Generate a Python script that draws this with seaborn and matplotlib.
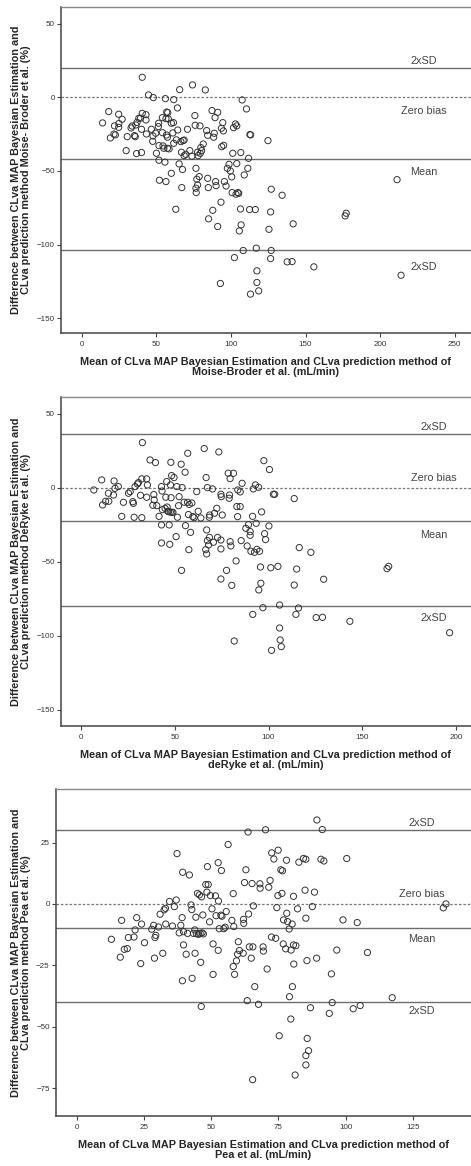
import numpy as np
import pandas as pd
import matplotlib
matplotlib.use("Agg")
import matplotlib.pyplot as plt
import seaborn as sns

# Panel 1: Moise-Broder et al.
mb_mean = [40.5, 13.9, 18, 19.1, 21.5, 22.5, 21.9, 24.7, 24.7, 27, 24.8, 29.7, 30.4, 33, 33.7,
           35.3, 35.8, 36.2, 36.7, 37, 38.2, 39.3, 40, 40, 40.5, 43, 43, 43.3, 44.7, 46.6,
           47.7, 47.9, 47.5, 50, 51.3, 51.5, 51.7, 51.7, 52, 54, 54.4, 54, 55, 55.7, 56.4,
           56, 56.4, 56.7, 56.9, 57.6, 57.4, 58.5, 58, 60, 60, 61, 61.6, 61.4, 61.6, 63,
           64.1, 64.3, 63.4, 65.2, 65.6, 66.4, 66.8, 67.5, 67, 67.9, 68.6, 69.7, 70.8, 72.4, 73.8,
           74.2, 75.8, 76, 76.5, 76.5, 76.7, 77.1, 77.6, 78, 79.2, 78.7, 80.3, 79.4, 81.4, 82.8,
           83.7, 84.4, 84.4, 84.8, 85, 87.3, 87.8, 88.4, 88.8, 89.3, 89.7, 90, 91.1, 91.1, 92.9,
           93.3, 93.6, 93.8, 94.5, 94.9, 95.6, 95.1, 96.7, 97.6, 98.7, 99.6, 100.5, 100.8, 101.2, 101.7,
           102.3, 103, 103.9, 103.4, 103.9, 104.6, 105.2, 105.6, 106.4, 106.6, 106.8, 107.5, 108.2, 108.9, 110.4,
           111.3, 111.8, 112.7, 113.2, 113.1, 112.5, 116.3, 117, 117.4, 117.4, 118.6, 124.8, 125.5, 126.6, 126.6,
           127, 127, 134.3, 137.7, 141, 141.7, 155.6, 176.6, 177.3, 211.4, 214.1,
           49.5, 57.4, 68.6, 77.6, 79.8]
mb_diff = [13.6, -17.4, -9.7, -27.6, -25, -25.5, -19.4, -11.5, -20.4, -14.9, -17.8, -36.2, -26.7, -20.8, -19.5,
           -26, -26.7, -18.8, -38.2, -17, -14.2, -14.2, -21.7, -37.5, -10.9, -11.8, -15.4, -24.9, 1.6, -21.7,
           -26.2, -0.2, -29.9, -38, -19.9, -17.6, -32.8, -42.7, -56.3, -13.8, -33, -24, -34.6, -44, -57.2,
           -0.9, -14.5, -25.6, -10, -10.4, -34.6, -35, -14.7, -17.6, -51.6, -24.2, -1.6, -17.2, -31.2, -76,
           -7.2, -22.2, -28.9, -45.2, 5.2, -30.1, -37.3, -49, -61.3, -29.4, -39.6, -38.7, -21.7, -36.2, -40,
           8.4, -12.4, -19, -48.2, -61.7, -64.7, -55.6, -59.5, -39.6, -19.4, -53.8, -36.2, -38, -31.7, 5,
           -22.6, -25.8, -55, -61.3, -82.5, -9, -76.7, -27.1, -24.4, -13.8, -57.2, -60, -10.2, -87.7, -126.4,
           -71.2, -21, -33.5, -17.2, -22.8, -57.2, -32.6, -60.2, -48.2, -45.5, -50, -54, -64.7, -38, -20.6,
           -108.8, -18.1, -19.4, -65.8, -45, -64.7, -65.2, -90.7, -75.8, -37.5, -86.6, -1.8, -104, -52.7, -7.9,
           -48.2, -41.4, -25.3, -25.5, -133.6, -76.2, -76.2, -102.4, -117.8, -125.7, -131.4, -29.4, -89.6, -77.8, -109.5,
           -104, -62.4, -66.5, -111.7, -111.5, -85.9, -115.1, -80.5, -78.7, -55.9, -120.8,
           -24.4, -27.1, -29, -37.3, -34.1]

# Panel 2: deRyke et al.
dr_mean = [6.8, 11, 11.5, 13.1, 14.8, 14.6, 17.3, 17.6, 18.1, 19.9, 21.7, 22.6, 25.3, 26.2, 27.6,
           27.9, 28.3, 28.8, 30.1, 30.6, 31.7, 32.4, 32.4, 32.7, 35, 35, 35.4, 36.8, 38.8, 39,
           39.7, 38.3, 40.4, 41.6, 42.9, 42.9, 42.9, 43.2, 43.4, 44.8, 45.2, 45.7, 45.9, 46.3, 46.7,
           47.6, 47, 47.3, 47.7, 47.9, 48, 48.3, 48.4, 49, 49.6, 50.7, 51.1, 51.4, 52, 52.3,
           53.4, 53.6, 53.9, 55, 55.5, 55.7, 56.8, 56.9, 57.3, 57.5, 57.7, 58.4, 59.1, 59.6, 60.3,
           61.7, 62.5, 63.9, 65.7, 66.5, 66.7, 67, 67, 67.4, 67.4, 68, 68.4, 68.6, 68.5, 70.1,
           70.6, 71.2, 72.4, 72.8, 73.5, 74.6, 74.6, 74.6, 74.6, 74.8, 75.3, 77.6, 78.5, 79, 79.2,
           79.5, 79.5, 79.9, 80.4, 81.3, 81.7, 82.7, 83.1, 83.5, 83.6, 84.9, 84.9, 85.4, 85.9, 87.9,
           88.6, 89.3, 90.2, 90.2, 90.6, 91.5, 91.6, 91.9, 92.5, 93, 93.4, 93.8, 94.7, 94.8, 95.2,
           95.7, 95.9, 96.3, 97, 97.5, 97.9, 98.4, 100.2, 100.5, 101.2, 101.6, 102.6, 103.3, 105, 105.9,
           105.9, 106.2, 106.8, 113.7, 113.7, 114.6, 115, 116, 116.4, 122.6, 125.4, 128.8, 129.4, 143.4, 163.2,
           164.1, 196.6]
dr_diff = [-1.6, 5.2, -11.7, -9.2, -9.2, -3.8, -5, 4.5, -0.5, 0.7, -19.4, -9.9, -3.8, -2.7, -9.5,
           -10.6, -20, 0.7, 2.5, 3.4, -5.2, 5.9, -20.3, 30.4, 5.9, -6.5, 1.8, 18.7, -4.7, -8.3,
           16.9, -11.9, -12.2, -19.4, 0.7, -25.2, -37.4, -2.3, -14.9, -14, -6.5, 4.1, -13.1, -16, -16.2,
           -16.5, -25.2, -38.3, 1.8, 17.1, -6.8, 8.1, -16.7, -16.7, 6.8, -33.1, 0.7, -20, -12.2, -6.1,
           15.8, -55.9, 0, -9.9, 10.4, -25.7, -9.9, 23.2, -18.2, -41.9, -11.3, -30.2, -10.4, -19.6, -20.3,
           -2.7, -16, -20.5, 26.4, -41.9, 6.8, -28.6, -44.8, 0, -35.8, -38.7, -20, -18.5, -33.6, -0.9,
           -36.9, -17.3, -14, -33.6, 24.1, -35.4, -41.4, -61.7, -4.5, -6.1, -18.5, -55.9, 9.7, -7.2, -5,
           6.1, -36.5, -39.4, -66, 9.7, -103.6, -49.5, -12.8, -19.6, -1.6, -2.9, -12.8, -35.8, 2.9, -27.5,
           -39.4, -25, -29.7, -32.2, -43, -19.4, -85.6, -0.9, -43.7, 1.8, -24.1, -41.7, 0.2, -69.1, -43,
           -53.6, -64.6, -16.4, -81.1, 18.2, -31.1, -35.1, -25.9, 12.2, -54.1, -109.9, -4.5, -4.5, -53.2, -79.3,
           -94.8, -102.9, -107.4, -7.4, -65.8, -85.6, -55, -81.3, -40.5, -43.7, -87.8, -87.6, -61.9, -90.3, -54.7,
           -53.2, -98]

# Panel 3: Pea et al.
pea_mean = [12.9, 16.2, 16.7, 17.7, 18.8, 19.2, 21.3, 21.7, 22.3, 23.8, 24.1, 25.2, 27.9, 28.6, 28.9,
            29.1, 29.4, 30.4, 31, 32, 32.5, 33, 33.1, 34.5, 35.6, 36.3, 37, 37.3, 38.1, 38.7,
            39.2, 39.3, 39.4, 39.7, 39.7, 40.7, 41.2, 41.9, 42.5, 42.8, 42.9, 43.4, 43.9, 44, 44.3,
            44.5, 44.9, 45.3, 45.6, 45.9, 46.1, 46.3, 46.4, 46.6, 46.9, 47.1, 48, 48.6, 48.9, 48.4,
            49.4, 49.7, 50.3, 50.7, 50.7, 51.6, 51.8, 52.6, 52.6, 52.7, 53, 53.6, 53.8, 54, 54.7,
            55.2, 55.6, 56.3, 57.7, 58.2, 58.2, 58.4, 58.7, 59.4, 59.8, 60.1, 60.5, 61.9, 62, 62.1,
            62.4, 62.9, 63.4, 63.7, 63.9, 64.2, 64.9, 65.2, 65.4, 65.5, 65.7, 66.2, 67.6, 68.1, 68.2,
            69.3, 69.4, 70.2, 70.8, 71.4, 71.9, 72.4, 72.5, 73.3, 74, 74.4, 74.9, 74.8, 75.3, 75.9,
            76.3, 76.5, 76.8, 76.9, 77.7, 78, 78.1, 78.4, 79, 79.1, 79.6, 79.7, 80.1, 80.2, 80.6,
            80.7, 80.6, 81.2, 81.5, 82.1, 82.6, 84.3, 84.9, 85.2, 85.2, 85.2, 85.2, 85.6, 85.7, 86.2,
            86.9, 87.6, 88.4, 89.2, 89.3, 90.8, 91.3, 91.9, 94.7, 93.9, 95, 96.7, 99, 100.4, 102.8,
            104.3, 105.4, 108.1, 117.3, 136.3, 137.3]
pea_diff = [-14.4, -21.7, -6.7, -18.5, -18.2, -13.7, -13.5, -10.6, -5.6, -24.3, -8.2, -15.8, -10.3, -8.7, -22.1,
            -13.7, -12.8, -9.4, -4.2, -20.1, -2.4, -1.8, -8.2, 1, -9, -1.1, 1.6, 20.5, -11.8, -8.7,
            -5.6, -31.3, 12.9, -11.3, -16.7, -20.5, -12, 11.8, -0.4, -2.3, -30.3, -12, -10.6, -20.1, -5.4,
            -12.1, 4.3, -12.4, 3.7, -12, -23.8, -41.8, 2.9, -11.8, -4.5, -12.2, 7.9, 15.2, 7.9, 4.8,
            -7.3, 3.4, -2, -16.3, -28.7, 3.3, -4.8, 16.8, -18.9, 1.2, -10.1, -4.6, 13.6, -5, -10.1,
            -9.5, -3.1, 24.2, -6.7, 4.2, -25.5, -9.2, -28.7, -23.2, -20.5, -15.4, -19, -20.1, -6.3, -7.9,
            8.7, 13.9, -39.4, 29.3, -4.1, -17.5, -22.1, 8.3, -71.6, -17.5, -0.8, -33.7, -40.9, 8.2, 6.4,
            -17.5, -19.2, 30.2, -26.5, 6.8, 9.6, -13.5, 20.8, 18.3, -14, -1.5, 21.9, 3.4, -53.7, 13.9,
            4.3, 13.5, -16.3, -6.5, -18.3, 17.8, -3.8, -7.2, -10.2, -37.8, -46.9, -18.8, -8.2, -33.7, 3.1,
            -24.5, -16.7, -69.7, -17, -2, 17, 18.5, 5.6, 18.2, -5.8, -65.6, -61.8, -23.1, -54.8, -59.8,
            -42.3, -1.1, 4.8, -22.1, 34.2, 18.2, 30.3, 17.5, -28.5, -44.6, -40.2, -18.8, -6.5, 18.5, -42.7,
            -7.6, -41.4, -19.8, -38.2, -1.6, 0]

# reference lines: upper 2xSD, mean, lower 2xSD
mb_lines = [20.1, -41.9, -103.6]
dr_lines = [36.3, -22.7, -80.0]
pea_lines = [30.0, -9.9, -40.1]

xlab_top = "Mean of CLva MAP Bayesian Estimation and CLva prediction method of"
ylab_top = "Difference between CLva MAP Bayesian Estimation and"

panels = [
    dict(x=mb_mean, y=mb_diff, lines=mb_lines,
         xlabel=xlab_top + "\nMoise-Broder et al. (mL/min)",
         ylabel=ylab_top + "\nCLva prediction method Moise- Broder et al. (%)",
         xlim=(-14, 261), ylim=(-160, 61.3), xticks=np.arange(0, 251, 50), yticks=np.arange(-150, 51, 50),
         labx=229.5, laby=[24.6, -9.3, -50.4, -115.5],
         pos=[61 / 471, 1 - 333 / 1166, 410 / 471, 326 / 1166]),
    dict(x=dr_mean, y=dr_diff, lines=dr_lines,
         xlabel=xlab_top + "\ndeRyke et al. (mL/min)",
         ylabel=ylab_top + "\nCLva prediction method DeRyke et al. (%)",
         xlim=(-10.7, 208), ylim=(-161, 61), xticks=np.arange(0, 201, 50), yticks=np.arange(-150, 51, 50),
         labx=188, laby=[41.2, 6.8, -32.2, -88.3],
         pos=[61 / 471, 1 - 726 / 1166, 410 / 471, 328.7 / 1166]),
    dict(x=pea_mean, y=pea_diff, lines=pea_lines,
         xlabel=xlab_top + "\nPea et al. (mL/min)",
         ylabel=ylab_top + "\nCLva prediction method Pea et al. (%)",
         xlim=(-7.7, 146.6), ylim=(-86.4, 46.7), xticks=np.arange(0, 126, 25), yticks=np.arange(-75, 26, 25),
         labx=128.4, laby=[32.9, 3.9, -14.4, -43.6],
         pos=[56 / 471, 1 - 1116 / 1166, 415 / 471, 326.7 / 1166]),
]

sns.set_style("ticks")
plt.rcParams['font.family'] = ['Liberation Sans', 'DejaVu Sans']

fig = plt.figure(figsize=(4.71, 11.66), dpi=100)

for p in panels:
    ax = fig.add_axes(p["pos"])
    df = pd.DataFrame({"mean": p["x"], "diff": p["y"]})

    ax.axhline(0, color="#777777", lw=0.9, ls=(0, (2, 1.5)), zorder=1)
    for v in p["lines"]:
        ax.axhline(v, color="#6e6e6e", lw=1.0, zorder=1)

    sns.scatterplot(data=df, x="mean", y="diff", ax=ax, s=20, facecolor="none",
                    edgecolor="#333333", linewidth=0.7, zorder=3)

    for txt, yy in zip(["2xSD", "Zero bias", "Mean", "2xSD"], p["laby"]):
        ax.text(p["labx"], yy, txt, ha="center", va="center", fontsize=7.8, color="#444444")

    ax.set_xlim(*p["xlim"])
    ax.set_ylim(*p["ylim"])
    ax.set_xticks(p["xticks"])
    ax.set_yticks(p["yticks"])
    ax.tick_params(axis="both", labelsize=5.8, labelcolor="#333333", color="#444444",
                   length=3, width=0.8)
    ax.tick_params(axis="x", pad=3)
    ax.tick_params(axis="y", pad=1.5)
    ax.set_xlabel(p["xlabel"], fontsize=7.8, fontweight="bold", labelpad=6, linespacing=1.0)
    ax.set_ylabel(p["ylabel"], fontsize=7.8, fontweight="bold", labelpad=4, linespacing=1.0)

    for side in ["left", "bottom"]:
        ax.spines[side].set_color("#444444")
        ax.spines[side].set_linewidth(1.1)
    ax.spines["top"].set_color("#888888")
    ax.spines["top"].set_linewidth(1.0)
    ax.spines["right"].set_visible(False)

fig.savefig("out.png", dpi=100)
